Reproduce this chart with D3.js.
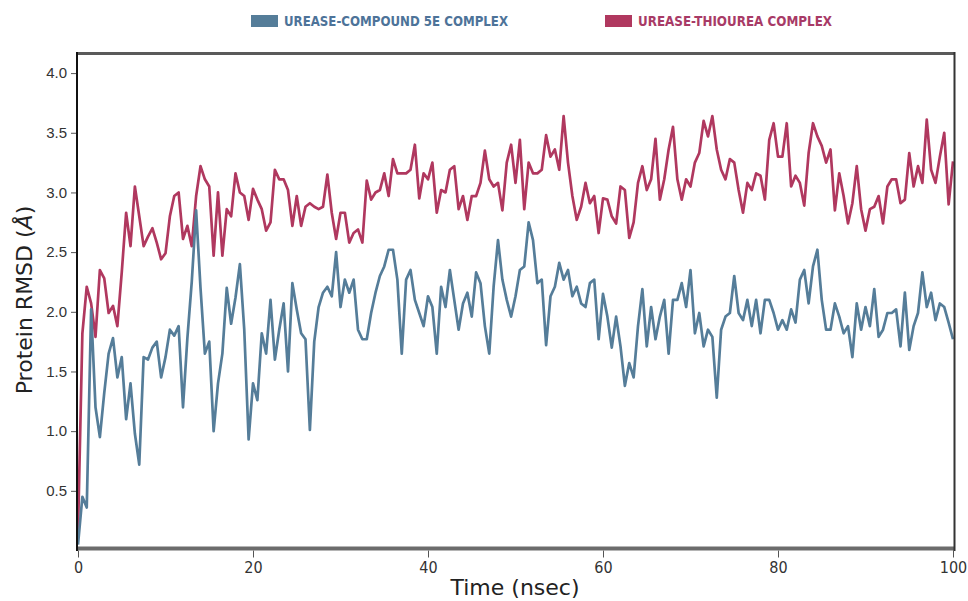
<!DOCTYPE html>
<html>
<head>
<meta charset="utf-8">
<script src="https://cdn.jsdelivr.net/npm/d3@7"></script>
<style>
  html, body { margin: 0; padding: 0; background: #fff; }
  svg { display: block; }
</style>
</head>
<body>
<div id="chart"></div>
<script>
// RMSD traces, one frame every 0.5 ns from 0 to 100 ns
const TIME_STEP_NS = 0.5;

const compound5e = [
  0.05, 0.45, 0.36, 2.02, 1.20, 0.95, 1.32, 1.65, 1.78, 1.45,
  1.62, 1.10, 1.40, 0.98, 0.72, 1.62, 1.60, 1.70, 1.75, 1.45,
  1.62, 1.85, 1.80, 1.88, 1.20, 1.78, 2.25, 2.85, 2.20, 1.65,
  1.75, 1.00, 1.40, 1.65, 2.20, 1.90, 2.12, 2.40, 1.85, 0.93,
  1.40,
  1.26, 1.82, 1.65, 2.10, 1.60, 1.85, 2.07, 1.50, 2.24,
  2.02, 1.82, 1.77, 1.01, 1.75, 2.04, 2.16, 2.21, 2.13, 2.50,
  2.04, 2.27, 2.16, 2.27, 1.85, 1.77, 1.77, 1.99, 2.16, 2.30,
  2.38, 2.52, 2.52, 2.27, 1.65, 2.27, 2.35, 2.10, 1.99, 1.88,
  2.13,
  2.04, 1.65, 2.21, 2.04, 2.35, 2.10, 1.85, 2.07, 2.16,
  1.96, 2.33, 2.24, 1.88, 1.65, 2.21, 2.60, 2.27, 2.10, 1.96,
  2.13, 2.35, 2.38, 2.75, 2.60, 2.24, 2.27, 1.72, 2.13, 2.21,
  2.41, 2.27, 2.35, 2.13, 2.21, 2.07, 2.04, 2.24, 2.27, 1.77,
  2.15,
  1.96, 1.70, 1.96, 1.71, 1.38, 1.57, 1.45, 1.88, 2.19,
  1.71, 2.04, 1.77, 1.96, 2.10, 1.65, 2.10, 2.10, 2.24, 2.04,
  2.35, 1.82, 1.99, 1.71, 1.85, 1.79, 1.28, 1.85, 1.96, 1.99,
  2.30, 1.99, 1.93, 2.10, 1.88, 2.10, 1.82, 2.10, 2.10, 1.99,
  1.85,
  1.93, 1.85, 2.02, 1.91, 2.27, 2.35, 2.07, 2.38, 2.52,
  2.10, 1.85, 1.85, 2.07, 1.96, 1.82, 1.88, 1.62, 2.07, 1.85,
  2.04, 1.88, 2.19, 1.79, 1.85, 1.99, 1.99, 2.02, 1.71, 2.16,
  1.68, 1.88, 1.99, 2.33, 2.04, 2.16, 1.93, 2.07, 2.04, 1.91,
  1.77
];

const thiourea = [
  0.15, 1.82, 2.21, 2.07, 1.79, 2.35, 2.28, 1.99, 2.05, 1.88,
  2.33, 2.83, 2.55, 3.05, 2.80, 2.55, 2.63, 2.70, 2.58, 2.44,
  2.49, 2.80, 2.97, 3.00, 2.61, 2.72, 2.55, 2.97, 3.22, 3.11,
  3.05, 2.47, 3.00, 2.47, 2.86, 2.80, 3.16, 3.00, 2.97, 2.77,
  3.03,
  2.94, 2.86, 2.68, 2.75, 3.19, 3.11, 3.11, 3.02, 2.72,
  2.97, 2.72, 2.88, 2.91, 2.88, 2.86, 2.88, 3.15, 2.83, 2.61,
  2.83, 2.83, 2.58, 2.66, 2.69, 2.58, 3.10, 2.94, 3.00, 3.02,
  3.16, 2.97, 3.28, 3.16, 3.16, 3.16, 3.19, 3.40, 2.95, 3.16,
  3.11,
  3.25, 2.83, 3.02, 3.00, 3.19, 3.22, 2.86, 2.97, 2.77,
  2.97, 2.97, 3.08, 3.35, 3.11, 3.05, 3.08, 2.85, 3.25, 3.40,
  3.08, 3.44, 2.86, 3.25, 3.16, 3.16, 3.19, 3.48, 3.30, 3.36,
  3.19, 3.64, 3.25, 2.97, 2.77, 2.88, 3.08, 2.91, 2.97, 2.66,
  2.95,
  2.94, 2.80, 2.74, 3.05, 3.02, 2.62, 2.75, 3.08, 3.22,
  3.02, 3.11, 3.45, 2.94, 3.11, 3.36, 3.55, 3.11, 2.94, 3.11,
  3.05, 3.25, 3.33, 3.60, 3.47, 3.64, 3.36, 3.19, 3.11, 3.28,
  3.25, 3.02, 2.83, 3.08, 3.02, 3.16, 3.14, 2.94, 3.44, 3.58,
  3.30,
  3.30, 3.58, 3.05, 3.14, 3.08, 2.89, 3.33, 3.58, 3.47,
  3.39, 3.25, 3.36, 2.85, 3.16, 2.97, 2.74, 2.91, 3.22, 2.86,
  2.68, 2.86, 2.88, 2.97, 2.74, 3.05, 3.11, 3.11, 2.91, 2.94,
  3.33, 3.05, 3.22, 3.08, 3.61, 3.19, 3.08, 3.30, 3.50, 2.90,
  3.26
];

const seriesNames = ['UREASE-COMPOUND 5E COMPLEX', 'UREASE-THIOUREA COMPLEX'];
const xTicks = [0, 20, 40, 60, 80, 100];
const yTicks = [0.5, 1.0, 1.5, 2.0, 2.5, 3.0, 3.5, 4.0];

const BLUE = '#557d99';
const RED = '#b0385f';

const width = 968, height = 601;
const plot = { left: 77, right: 955, top: 54, bottom: 550.5 };

const svg = d3.select('#chart').append('svg')
  .attr('width', width)
  .attr('height', height)
  .style('font-family', '"DejaVu Sans", sans-serif');

const x = d3.scaleLinear().domain([0, 100]).range([78, 953]);
const y = d3.scaleLinear().domain([0, 4.16]).range([plot.bottom, plot.top]);

const line = d3.line()
  .x((d, i) => x(i * TIME_STEP_NS))
  .y(d => y(d));

svg.append('defs').append('clipPath').attr('id', 'plot-clip')
  .append('rect')
  .attr('x', plot.left).attr('y', plot.top)
  .attr('width', plot.right - plot.left).attr('height', plot.bottom - plot.top);

// thiourea first so the compound trace sits on top where they cross
const lines = svg.append('g').attr('clip-path', 'url(#plot-clip)');
lines.append('path')
  .datum(thiourea)
  .attr('d', line)
  .attr('fill', 'none')
  .attr('stroke', RED)
  .attr('stroke-width', 2.7)
  .attr('stroke-linejoin', 'round');
lines.append('path')
  .datum(compound5e)
  .attr('d', line)
  .attr('fill', 'none')
  .attr('stroke', BLUE)
  .attr('stroke-width', 2.7)
  .attr('stroke-linejoin', 'round');

// axes
const xAxis = svg.append('g')
  .attr('transform', `translate(0,${plot.bottom})`)
  .call(d3.axisBottom(x).tickValues(xTicks).tickFormat(d3.format('d')).tickSize(7).tickPadding(4));
xAxis.select('.domain').remove();
xAxis.selectAll('line').attr('stroke', '#555');
xAxis.selectAll('text')
  .attr('fill', '#333')
  .style('font-size', '16px')
  .style('font-stretch', 'condensed')
  .style('font-family', '"DejaVu Sans Condensed", "DejaVu Sans", sans-serif');

const yAxis = svg.append('g')
  .attr('transform', `translate(${plot.left},0)`)
  .call(d3.axisLeft(y).tickValues(yTicks).tickFormat(d3.format('.1f')).tickSize(6).tickPadding(4));
yAxis.select('.domain').remove();
yAxis.selectAll('line').attr('stroke', '#555');
yAxis.selectAll('text')
  .attr('fill', '#333')
  .style('font-size', '15px');

// frame: grey top/bottom, black sides
const frame = svg.append('g');
frame.append('line')
  .attr('x1', plot.left).attr('x2', plot.right)
  .attr('y1', 53.5).attr('y2', 53.5)
  .attr('stroke', '#5a5a5a').attr('stroke-width', 3);
frame.append('line')
  .attr('x1', plot.left).attr('x2', plot.right)
  .attr('y1', 548.5).attr('y2', 548.5)
  .attr('stroke', '#6c6c6c').attr('stroke-width', 4);
frame.append('line')
  .attr('x1', plot.left).attr('x2', plot.left)
  .attr('y1', 52).attr('y2', 551)
  .attr('stroke', '#111').attr('stroke-width', 2);
frame.append('line')
  .attr('x1', 954.5).attr('x2', 954.5)
  .attr('y1', 52).attr('y2', 551)
  .attr('stroke', '#333').attr('stroke-width', 2);

// axis titles
svg.append('text')
  .attr('x', 515).attr('y', 595)
  .attr('text-anchor', 'middle')
  .attr('fill', '#222')
  .style('font-size', '22px')
  .text('Time (nsec)');

const yTitle = svg.append('text')
  .attr('transform', 'translate(32,300) rotate(-90)')
  .attr('text-anchor', 'middle')
  .attr('fill', '#222')
  .style('font-size', '22px');
yTitle.append('tspan').text('Protein RMSD (');
yTitle.append('tspan').style('font-style', 'italic').text('Å');
yTitle.append('tspan').text(')');

// legend
const legendItems = [
  { name: seriesNames[0], color: BLUE, text: '#4d7399', x: 251, w: 224 },
  { name: seriesNames[1], color: RED, text: '#a83a66', x: 605, w: 194 }
];
const legend = svg.append('g');
legendItems.forEach(d => {
  legend.append('rect')
    .attr('x', d.x).attr('y', 15)
    .attr('width', 27).attr('height', 12)
    .attr('fill', d.color);
  legend.append('text')
    .attr('x', d.x + 33).attr('y', 26)
    .attr('fill', d.text)
    .attr('textLength', d.w)
    .attr('lengthAdjust', 'spacingAndGlyphs')
    .style('font-size', '14px')
    .style('font-weight', 'bold')
    .text(d.name);
});
</script>
</body>
</html>
